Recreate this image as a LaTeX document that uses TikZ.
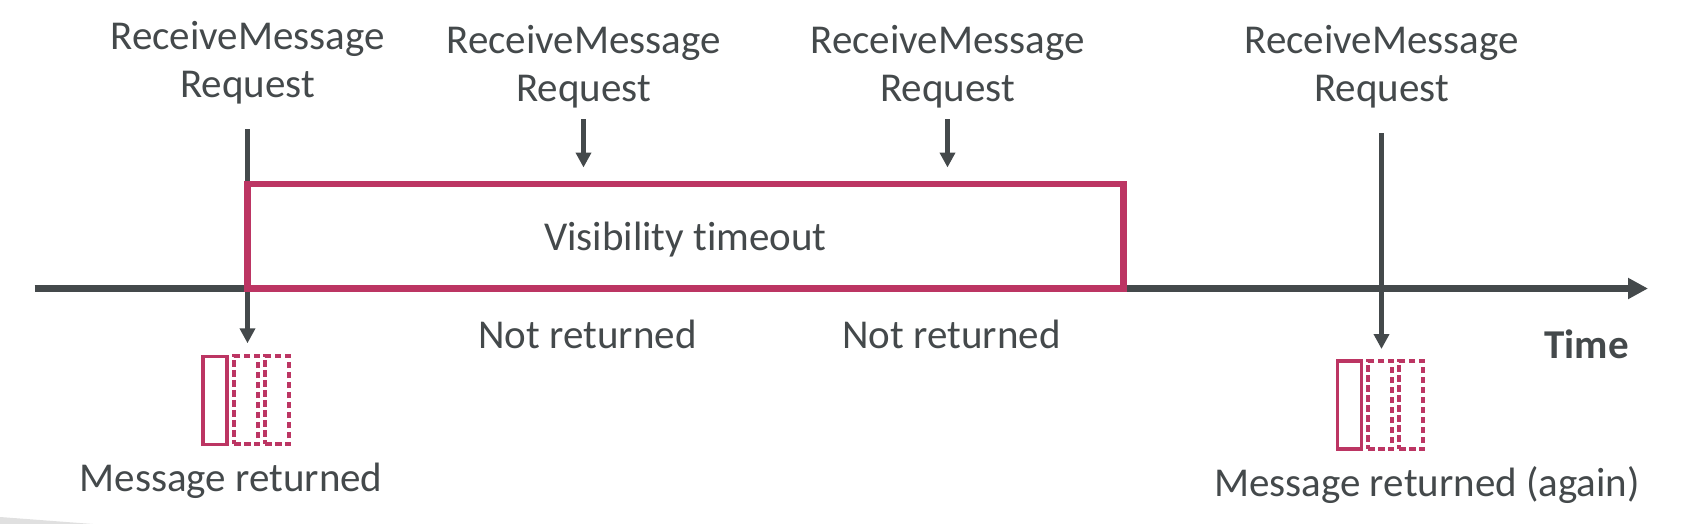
\documentclass[tikz,border=0pt]{standalone}
\usepackage{fontspec}
\setmainfont[Ligatures=CommonOff]{Carlito}
\usepgflibrary{arrows.meta}
\definecolor{slategrey}{HTML}{44494B}
\definecolor{berry}{HTML}{BC3563}
\tikzset{
  label/.style={inner sep=0pt,text=slategrey,font=\fontsize{41}{47.5}\selectfont,align=center,anchor=base},
  timeline/.style={line width=6.5pt,color=slategrey,arrows={-Triangle[length=20pt,width=20pt]}},
  reqarrow/.style={line width=5pt,color=slategrey,arrows={-Triangle[length=15pt,width=15pt]}},
  msgbox/.style={draw=berry,line width=3.6pt,inner sep=0pt,minimum width=24pt,minimum height=88pt}
}
\def\msgstack#1#2#3{
  % 1: x of the solid box
  % 2: y
  % 3: name
  \node[msgbox] (#3a) at (#1,#2) {};
  \node[msgbox,line width=4pt,dash pattern=on 6.5pt off 3.5pt] (#3b) at (#1+31,#2) {};
  \node[msgbox,line width=4pt,dash pattern=on 6.5pt off 3.5pt] (#3c) at (#1+62,#2) {};
}

\begin{document}
\begin{tikzpicture}[x=1pt,y=-1pt]
    \useasboundingbox (0,0) rectangle (1694,524);
    \fill[black!12] (0,517) -- (93,524) -- (0,524) -- cycle;
    % requests
    \node[label] (reqa) at (247.5,97.3) {ReceiveMessage\\Request};
    \node[label] (reqb) at (583.5,101.3) {ReceiveMessage\\Request};
    \node[label] (reqc) at (947.5,101.3) {ReceiveMessage\\Request};
    \node[label] (reqd) at (1381.5,101.3) {ReceiveMessage\\Request};
    % returned messages
    \msgstack{215}{400.3}{first}
    \msgstack{1349.3}{405}{again}
    % \draw[reqarrow] (req) -- (target)
    \draw[reqarrow,shorten <=25pt,shorten >=11pt] (reqa.south) -- (reqa.south |- firstb.north);
    \draw[reqarrow,shorten <=25pt,shorten >=10pt] (reqd.south) -- (reqd.south |- againb.north);
    \coordinate (tstart) at (34.5,288.5);
    \coordinate (tend) at (1648,288.5);
    \draw[timeline] (tstart) -- (tend);
    \node[draw=berry,line width=6.5pt,inner sep=0pt,minimum width=876pt,minimum height=104.5pt] (timeout) at (685.5,236) {};
    \draw[reqarrow,shorten <=11pt,shorten >=13pt] (reqb.south) -- (reqb.south |- timeout.north);
    \draw[reqarrow,shorten <=11pt,shorten >=13pt] (reqc.south) -- (reqc.south |- timeout.north);
    \node[label] (vis) at (685.5,250.9) {Visibility timeout};
    \node[label] (nota) at (587.5,348) {Not returned};
    \node[label] (notb) at (951.5,348) {Not returned};
    \node[label,font=\fontsize{41}{47.5}\selectfont\bfseries] (time) at (1586.5,358.3) {Time};
    \node[label] (reta) at (231,491.6) {Message returned};
    \node[label] (retb) at (1427,496) {Message returned (again)};
\end{tikzpicture}
\end{document}
